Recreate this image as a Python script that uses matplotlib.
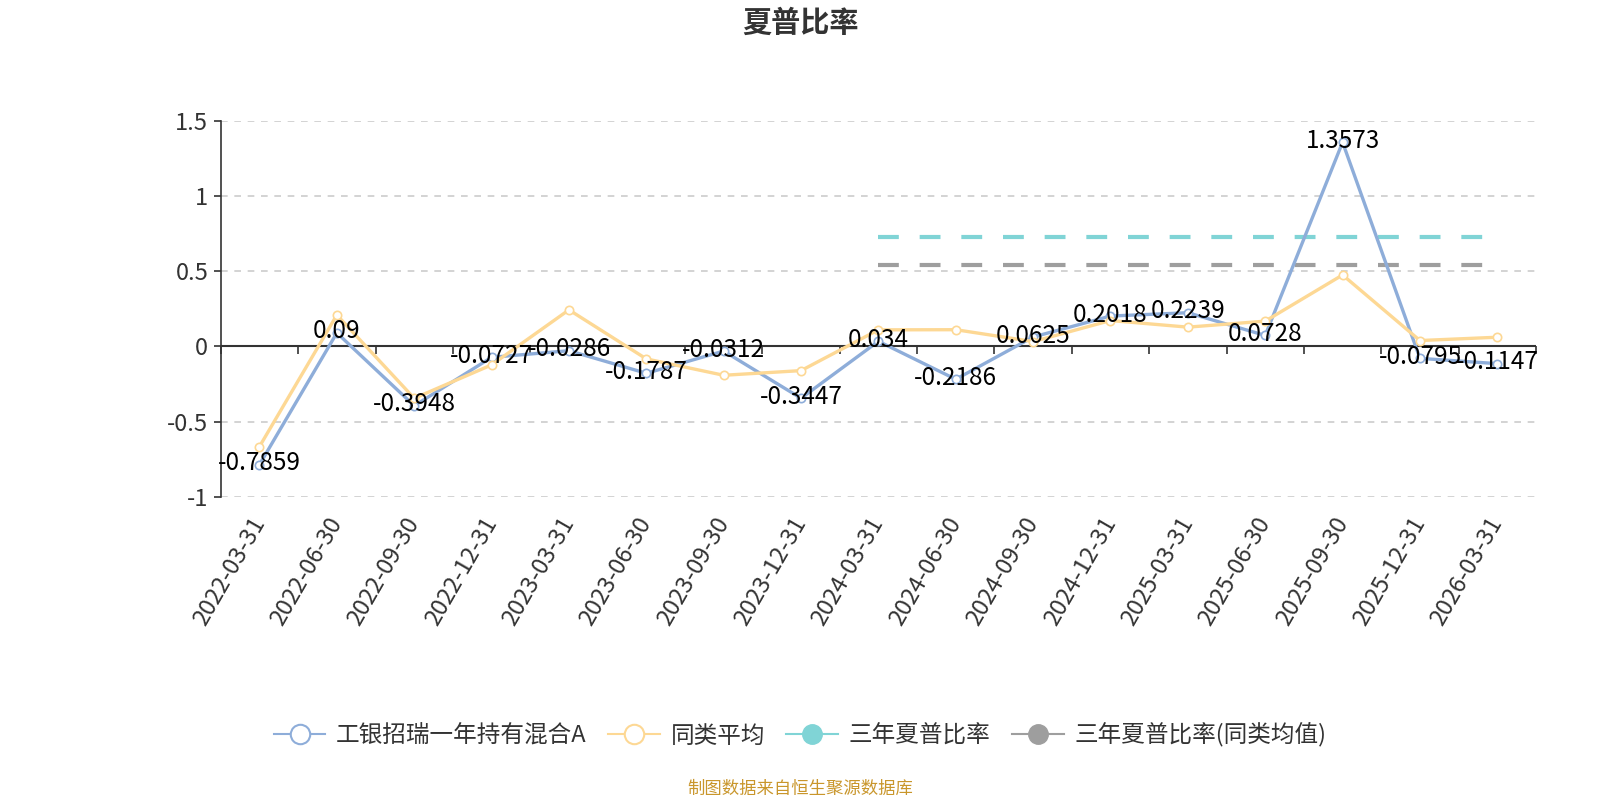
import matplotlib
matplotlib.use("Agg")
import matplotlib.pyplot as plt
from matplotlib.lines import Line2D
import numpy as np

plt.rcParams['font.family'] = ['Noto Sans CJK SC', 'DejaVu Sans']
plt.rcParams['axes.unicode_minus'] = False

# 数据
dates = ['2022-03-31', '2022-06-30', '2022-09-30', '2022-12-31', '2023-03-31',
         '2023-06-30', '2023-09-30', '2023-12-31', '2024-03-31', '2024-06-30',
         '2024-09-30', '2024-12-31', '2025-03-31', '2025-06-30', '2025-09-30',
         '2025-12-31', '2026-03-31']
fund = [-0.7859, 0.09, -0.3948, -0.0727, -0.0286, -0.1787, -0.0312, -0.3447,
        0.034, -0.2186, 0.0625, 0.2018, 0.2239, 0.0728, 1.3573, -0.0795, -0.1147]
peer = [-0.666, 0.209, -0.345, -0.123, 0.243, -0.083, -0.192, -0.161,
        0.110, 0.111, 0.032, 0.172, 0.128, 0.168, 0.475, 0.039, 0.061]
sharpe_3y = 0.726
sharpe_3y_peer = 0.540
sharpe_start = '2024-03-31'

fund_name = '工银招瑞一年持有混合A'
labels_legend = [fund_name, '同类平均', '三年夏普比率', '三年夏普比率(同类均值)']

c_blue = '#8EADD9'
c_yellow = '#FDD894'
c_cyan = '#80D4D6'
c_gray = '#9E9E9E'
c_text = '#333333'

fig = plt.figure(figsize=(16, 8), dpi=100)
ax = fig.add_axes([0.138, 0.379, 0.822, 0.470])

x = np.arange(len(dates))
ax.plot(x, fund, color=c_blue, lw=2.4, marker='o', ms=6, mfc='white',
        mec=c_blue, mew=1.2, zorder=3)
ax.plot(x, peer, color=c_yellow, lw=2.4, marker='o', ms=6, mfc='white',
        mec=c_yellow, mew=1.2, zorder=3)

i0 = dates.index(sharpe_start)
xs = x[i0:]
ax.plot(xs, [sharpe_3y] * len(xs), color=c_cyan, lw=3, ls=(0, (5, 5)), zorder=2)
ax.plot(xs, [sharpe_3y_peer] * len(xs), color=c_gray, lw=3, ls=(0, (5, 5)), zorder=2)

for xi, v in zip(x, fund):
    ax.annotate(f'{v:g}', (xi, v), xytext=(0, 1), textcoords='offset points',
                ha='center', va='center', fontsize=17.5, color='black', zorder=5)

ax.set_xlim(-0.5, len(dates) - 0.5)
ax.set_ylim(-1, 1.5)
ax.set_yticks([-1, -0.5, 0, 0.5, 1, 1.5])
ax.set_yticklabels(['-1', '-0.5', '0', '0.5', '1', '1.5'])
ax.tick_params(axis='y', length=5, width=1.2, color=c_text, labelsize=17,
               labelcolor=c_text, pad=4)
for yv in [-1, -0.5, 0.5, 1, 1.5]:
    ax.axhline(yv, color='#CCCCCC', ls=(0, (4, 4)), lw=1.2, zorder=1)

ax.set_xticks(x)
ax.set_xticklabels(dates, rotation=60, ha='right', va='center',
                   rotation_mode='anchor', fontsize=17, color=c_text)
ax.tick_params(axis='x', length=0, pad=16)

for s in ['top', 'right', 'bottom']:
    ax.spines[s].set_visible(False)
ax.spines['left'].set_color(c_text)
ax.spines['left'].set_linewidth(1.2)

# 零轴及刻度
ax.axhline(0, color=c_text, lw=1.5, zorder=2.5)
sec = ax.secondary_xaxis(0, transform=ax.transData)
sec.set_xticks(np.arange(len(dates) + 1) - 0.5)
sec.set_xticklabels([])
sec.tick_params(axis='x', direction='out', length=6, width=1.2, color=c_text)
sec.spines['bottom'].set_visible(False)

fig.text(0.5, 0.972, '夏普比率', ha='center', va='center', fontsize=21,
         fontweight='bold', color=c_text)

handles = [
    Line2D([0], [0], color=c_blue, lw=1.5, marker='o', ms=14, mfc='white', mec=c_blue, mew=1.5),
    Line2D([0], [0], color=c_yellow, lw=1.5, marker='o', ms=14, mfc='white', mec=c_yellow, mew=1.5),
    Line2D([0], [0], color=c_cyan, lw=1.5, marker='o', ms=14, mfc=c_cyan, mec=c_cyan),
    Line2D([0], [0], color=c_gray, lw=1.5, marker='o', ms=14, mfc=c_gray, mec=c_gray),
]
fig.legend(handles, labels_legend, loc='center', bbox_to_anchor=(0.5, 0.081),
           ncol=4, frameon=False, fontsize=17, handlelength=2.2,
           columnspacing=0.9, handletextpad=0.45, labelcolor=c_text)

fig.text(0.5, 0.014, '制图数据来自恒生聚源数据库', ha='center', va='center',
         fontsize=12.5, color='#C9962B')

fig.savefig('out.png', dpi=100)
